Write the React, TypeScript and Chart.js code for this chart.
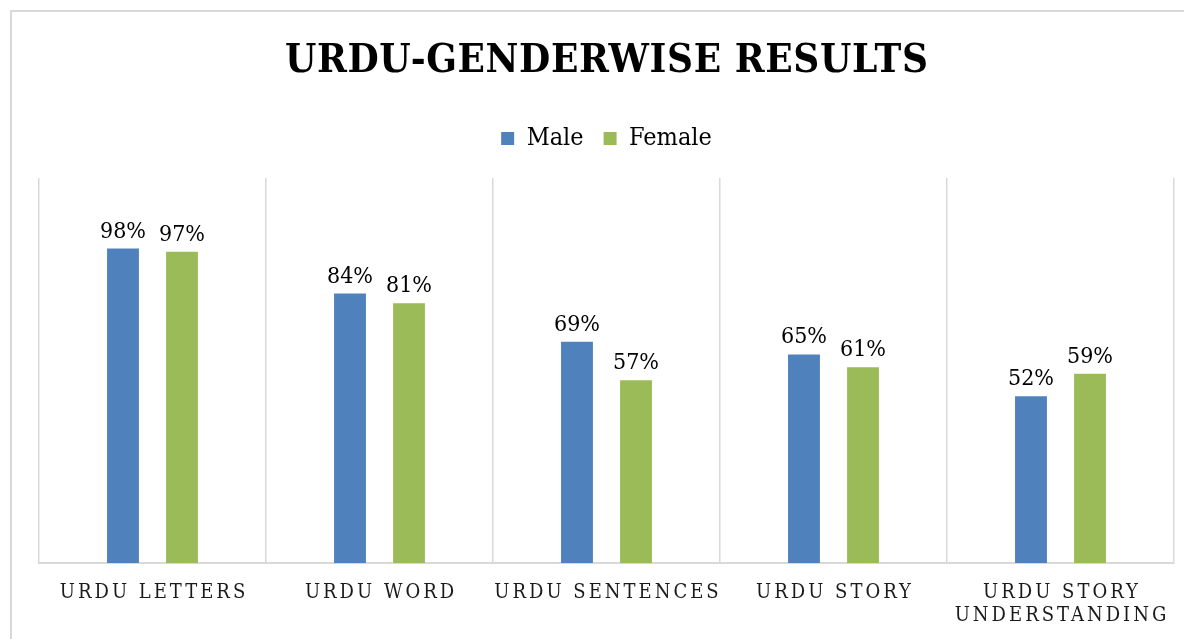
import React, { useEffect, useRef } from "react";
import { Chart, registerables } from "chart.js";

Chart.register(...registerables);

const chartTitle = "URDU-GENDERWISE RESULTS";
const categories: (string | string[])[] = [
  "URDU LETTERS",
  "URDU WORD",
  "URDU SENTENCES",
  "URDU STORY",
  ["URDU STORY", "UNDERSTANDING"],
];
const seriesNames = ["Male", "Female"];
const maleValues = [98, 84, 69, 65, 52];
const femaleValues = [97, 81, 57, 61, 59];
const yMax = 120;

const SERIF = '"DejaVu Serif Condensed", "DejaVu Serif", serif';
const BLUE = "#4f81bd";
const GREEN = "#9bbb59";
const GRID = "#d9d9d9";

export default function App() {
  const ref = useRef<HTMLCanvasElement>(null);

  useEffect(() => {
    const canvas = ref.current!;

    const textPlugin = {
      id: "customText",
      beforeDraw(chart: any) {
        const ctx = chart.ctx;
        ctx.save();
        ctx.fillStyle = "#ffffff";
        ctx.fillRect(0, 0, chart.width, chart.height);
        ctx.strokeStyle = GRID;
        ctx.lineWidth = 2;
        ctx.beginPath();
        ctx.moveTo(11, chart.height);
        ctx.lineTo(11, 11);
        ctx.lineTo(chart.width, 11);
        ctx.stroke();
        ctx.restore();
      },
      afterDatasetsDraw(chart: any) {
        const ctx = chart.ctx;
        ctx.save();
        ctx.font = `23px ${SERIF}`;
        ctx.fillStyle = "#000000";
        ctx.textAlign = "center";
        ctx.textBaseline = "alphabetic";
        chart.data.datasets.forEach((ds: any, di: number) => {
          const meta = chart.getDatasetMeta(di);
          meta.data.forEach((el: any, i: number) => {
            ctx.fillText(`${ds.data[i]}%`, el.x, el.y - 11);
          });
        });
        ctx.restore();
      },
      afterDraw(chart: any) {
        const ctx = chart.ctx;
        // title
        ctx.save();
        ctx.font = `bold 40px ${SERIF}`;
        ctx.fillStyle = "#000000";
        ctx.textAlign = "center";
        ctx.textBaseline = "alphabetic";
        const plainW = ctx.measureText(chartTitle).width;
        const tls = Math.max(0.5, (643 - plainW) / (chartTitle.length - 1));
        (ctx as any).letterSpacing = `${tls}px`;
        const cx = (chart.chartArea.left + chart.chartArea.right) / 2;
        ctx.fillText(chartTitle, cx + tls / 2, 72);
        ctx.restore();

        // x labels
        const xs = chart.scales.x;
        ctx.save();
        ctx.font = `20px ${SERIF}`;
        ctx.fillStyle = "#1a1a1a";
        ctx.textAlign = "center";
        ctx.textBaseline = "alphabetic";
        const ls = 3;
        (ctx as any).letterSpacing = `${ls}px`;
        const base = chart.chartArea.bottom + 35;
        chart.data.labels.forEach((lab: any, i: number) => {
          const x = xs.getPixelForValue(i);
          const lines = Array.isArray(lab) ? lab : [lab];
          lines.forEach((ln: string, k: number) => {
            ctx.fillText(ln, x + ls / 2, base + k * 23);
          });
        });
        ctx.restore();
      },
    };

    const chart = new Chart(canvas, {
      type: "bar",
      data: {
        labels: categories,
        datasets: [
          {
            label: seriesNames[0],
            data: maleValues,
            backgroundColor: BLUE,
            categoryPercentage: 0.52,
            barPercentage: 0.54,
          },
          {
            label: seriesNames[1],
            data: femaleValues,
            backgroundColor: GREEN,
            categoryPercentage: 0.52,
            barPercentage: 0.54,
          },
        ],
      },
      options: {
        responsive: false,
        maintainAspectRatio: false,
        animation: false,
        layout: {
          padding: { top: 106, left: 39, right: 10, bottom: 76 },
        },
        plugins: {
          title: { display: false },
          tooltip: { enabled: false },
          legend: {
            display: true,
            position: "top",
            labels: {
              color: "#000000",
              font: { family: SERIF, size: 25 },
              boxWidth: 13,
              boxHeight: 13,
              padding: 20,
            },
          },
        },
        scales: {
          x: {
            type: "category",
            position: "bottom",
            offset: true,
            grid: {
              display: true,
              offset: true,
              color: GRID,
              lineWidth: 1.5,
              drawTicks: false,
            },
            border: { display: true, color: GRID, width: 2 },
            ticks: { display: false },
          },
          spacer: {
            type: "category",
            position: "top",
            labels: categories as any,
            display: true,
            grid: { display: false, drawTicks: false },
            border: { display: false },
            ticks: { display: false },
            afterFit: (s: any) => {
              s.height = 17;
            },
          },
          y: {
            display: false,
            min: 0,
            max: yMax,
          },
        },
      },
      plugins: [textPlugin],
    });

    return () => chart.destroy();
  }, []);

  return (
    <canvas
      ref={ref}
      width={1184}
      height={639}
      style={{ position: "absolute", left: 0, top: 0, display: "block" }}
    />
  );
}
